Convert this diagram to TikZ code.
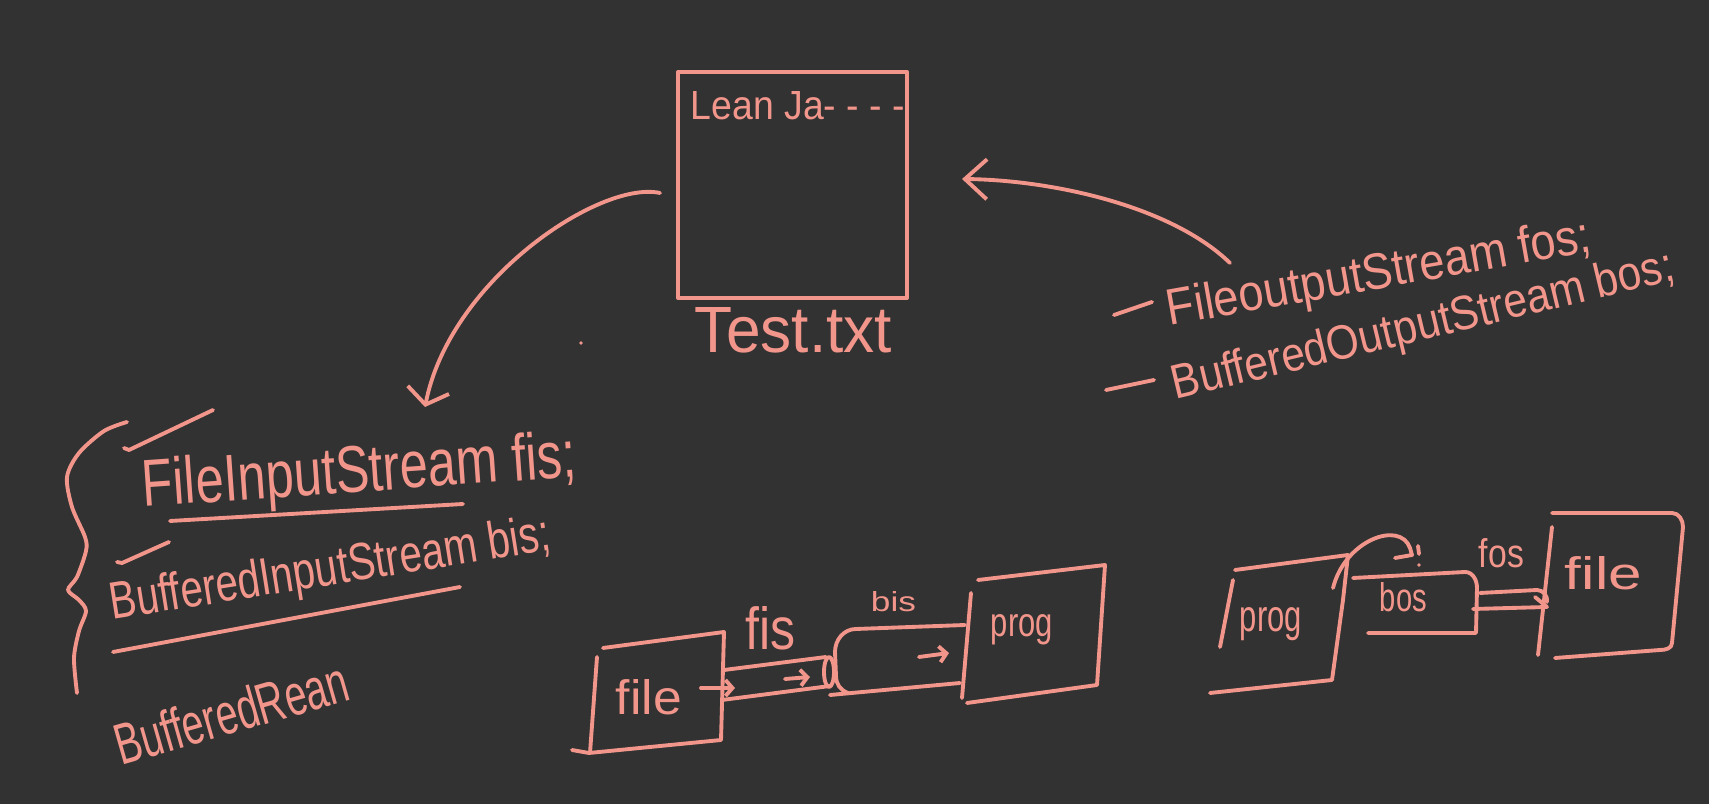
\documentclass[tikz,border=0pt]{standalone}
\usepackage{fontspec}
\setmainfont{Liberation Sans}
\usetikzlibrary{arrows.meta, calc}
\definecolor{board}{RGB}{50,50,50}
\definecolor{chalk}{RGB}{242,150,140}
\newlength{\hpx}\setlength{\hpx}{0.01cm}
\newcommand{\hand}[3]{\resizebox{#1\hpx}{#2\hpx}{#3}}

\begin{document}
\begin{tikzpicture}[x=0.01cm, y=-0.01cm, line width=1.1pt, line cap=round, line join=round, chalk,
  txt/.style={inner sep=0pt, anchor=base west, text=chalk},
  readtip/.style={-{Straight Barb[length=0.15cm, width=0.42cm]}},
  writetip/.style={-{Straight Barb[length=0.22cm, width=0.4cm]}},
  flow/.style={-{Straight Barb[length=0.07cm, width=0.16cm]}}]
\fill[board] (0,0) rectangle (1709,804);
\useasboundingbox (0,0) rectangle (1709,804);

% the text file
\node[draw, inner sep=0pt, minimum width=2.29cm, minimum height=2.26cm] (testfile) at (792.5,185) {};
\node[txt] (content) at (689,120) {\hand{214}{28}{Lean Ja- - - -}};
\node[txt] (fname) at (693,353) {\hand{197}{45}{Test.txt}};
\fill (581,343) circle (1.8);

% reading and writing
\coordinate (readend) at (425,407);
\coordinate (writestart) at (1230,263);
\draw[readtip] ($(testfile.west)+(-16,8)$) .. controls (600,180) and (450,280) .. (readend);
\draw[writetip] (writestart) .. controls (1170,205) and (1050,180) .. ($(testfile.east)+(53,-6)$);

% output classes
\draw (1114,315) -- (1152,302);
\node[txt, rotate=10] (fosdecl) at (1168,326) {\hand{430}{37}{FileoutputStream fos;}};
\draw (1106,390) -- (1154,380);
\node[txt, rotate=13.5] (bosdecl) at (1174,400) {\hand{515}{35}{BufferedOutputStream bos;}};

% input classes
\draw plot[smooth] coordinates {(127,422) (104,431) (79,453) (67,477) (72,507) (85,537) (86,551) (77,577) (68,590) (79,600) (86,611) (79,631) (74,658) (77,693)};
\draw (124,448) -- (129,450) -- (213,410);
\node[txt, rotate=4] (fisdecl) at (142,507) {\hand{435}{48}{FileInputStream fis;}};
\draw (170,521) -- (463,504);
\draw (117,562) -- (122,563) -- (169,542);
\node[txt, rotate=9] (bisdecl) at (111,620) {\hand{445}{38}{BufferedInputStream bis;}};
\draw (113,652) -- (460,587);
\node[txt, rotate=16] (reader) at (120,766) {\hand{240}{42}{BufferedRean}};

% file -> fis -> bis -> prog
\draw (603,648) -- (724,632) -- (721,740) -- (589,753) -- (572,750);
\draw (597,657) -- (590,753);
\node[txt] (filea) at (614,715) {\hand{66}{35}{file}};
\draw[flow] (701,688) -- (735,688);
\draw (724,670) -- (826,657);
\draw (722,700) -- (830,686);
\draw (829,672) ellipse (5 and 15);
\draw[flow] (785,679) -- (810,677);
\node[txt] (fislabel) at (744,650) {\hand{50}{43}{fis}};
\draw (965,625) -- (856,629) to[out=180, in=90] (835,652) -- (836,676) to[out=-90, in=160] (848,693);
\draw (830,695) -- (960,683);
\draw[flow] (919,657) -- (949,653);
\node[txt] (bislabel) at (869,612) {\hand{45}{20}{bis}};
\draw (971,593) -- (962,698);
\draw (978,580) -- (1105,565) -- (1097,685) -- (967,703);
\node[txt] (proga) at (989,637) {\hand{62}{22}{prog}};

% prog -> bos -> file
\draw (1233,580) -- (1220,647);
\draw (1235,570) -- (1348,555) -- (1343,600) -- (1332,680) -- (1210,693);
\node[txt] (progb) at (1238,632) {\hand{62}{24}{prog}};
\draw (1333,588) .. controls (1345,540) and (1400,520) .. (1410,548) -- (1412,555) -- (1395,558);
\draw (1418,546) -- (1419,554);
\fill (1419,565) circle (1.8);
\draw (1353,578) -- (1465,572) to[out=0, in=90] (1477,588) -- (1476,633) -- (1368,633);
\node[txt] (boslabel) at (1378,612) {\hand{47}{29}{bos}};
\draw (1480,593) -- (1537,590) to[out=0, in=80] (1547,602);
\draw (1473,609) -- (1547,607) -- (1535,597);
\node[txt] (foslabel) at (1477,568) {\hand{45}{29}{fos}};
\draw (1552,527) -- (1538,655);
\draw (1552,513) -- (1672,513) to[out=0, in=90] (1683,527) -- (1672,643) to[out=-90, in=0] (1660,650) -- (1555,658);
\node[txt] (fileb) at (1563,590) {\hand{77}{33}{file}};
\end{tikzpicture}
\end{document}
